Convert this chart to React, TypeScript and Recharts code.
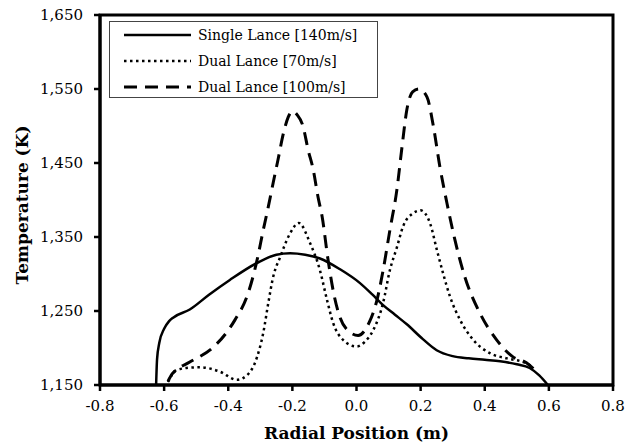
import { LineChart, Line, XAxis, YAxis, ReferenceArea, Legend } from 'recharts';

const FONT = '"DejaVu Serif", serif';

// --- Data ---
const xTicks = [-0.8, -0.6, -0.4, -0.2, 0, 0.2, 0.4, 0.6, 0.8];
const yTicks = [1150, 1250, 1350, 1450, 1550, 1650];

const singleX = [-0.625, -0.622, -0.615, -0.6, -0.585, -0.572, -0.52, -0.46, -0.395, -0.31, -0.25, -0.207, -0.16, -0.114, -0.05, 0.01, 0.05, 0.083, 0.12, 0.157, 0.207, 0.25, 0.3, 0.35, 0.4, 0.448, 0.5, 0.54, 0.57, 0.597];
const singleT = [1150, 1185, 1207, 1226, 1236, 1241, 1252, 1272, 1292, 1315, 1326, 1328, 1326, 1321, 1306, 1288, 1272, 1258, 1245, 1232, 1212, 1197, 1189, 1186, 1184, 1182, 1178, 1173, 1163, 1150];

const dual70X = [-0.588, -0.575, -0.566, -0.53, -0.488, -0.426, -0.373, -0.342, -0.31, -0.291, -0.275, -0.26, -0.238, -0.207, -0.18, -0.145, -0.114, -0.092, -0.073, -0.042, 0.0, 0.025, 0.052, 0.083, 0.104, 0.126, 0.145, 0.176, 0.2, 0.229, 0.251, 0.27, 0.292, 0.323, 0.364, 0.416, 0.469, 0.52, 0.552];
const dual70T = [1154, 1164, 1169, 1173, 1174, 1168, 1157, 1163, 1188, 1220, 1261, 1296, 1323, 1355, 1369, 1342, 1305, 1265, 1234, 1211, 1202, 1208, 1224, 1261, 1305, 1336, 1364, 1382, 1386, 1369, 1332, 1301, 1269, 1238, 1211, 1193, 1186, 1181, 1174];

const dual100X = [-0.588, -0.575, -0.563, -0.52, -0.447, -0.4, -0.379, -0.338, -0.31, -0.291, -0.275, -0.26, -0.245, -0.228, -0.213, -0.2, -0.185, -0.167, -0.151, -0.135, -0.12, -0.107, -0.089, -0.073, -0.052, -0.03, 0.005, 0.04, 0.064, 0.083, 0.104, 0.126, 0.142, 0.157, 0.175, 0.195, 0.22, 0.24, 0.26, 0.282, 0.307, 0.338, 0.385, 0.437, 0.488, 0.53, 0.552];
const dual100T = [1155, 1165, 1170, 1181, 1201, 1224, 1238, 1274, 1319, 1359, 1391, 1423, 1454, 1490, 1512, 1520, 1515, 1500, 1468, 1441, 1404, 1377, 1320, 1278, 1242, 1225, 1217, 1235, 1265, 1305, 1359, 1414, 1472, 1522, 1546, 1550, 1539, 1499, 1445, 1396, 1346, 1296, 1247, 1211, 1188, 1180, 1172];

const seriesNames = ['Single Lance [140m/s]', 'Dual Lance [70m/s]', 'Dual Lance [100m/s]'];

const toPoints = (xs: number[], ts: number[]) => xs.map((x, i) => ({ x, t: ts[i] }));

const singleData = toPoints(singleX, singleT);
const dual70Data = toPoints(dual70X, dual70T);
const dual100Data = toPoints(dual100X, dual100T);

// line styles shared between plot and legend
const styles = [
  { strokeWidth: 2.5, dash: undefined as string | undefined },
  { strokeWidth: 2.5, dash: '2.5 3.5' },
  { strokeWidth: 3, dash: '13 8' },
];

function LegendBox() {
  return (
    <div
      style={{
        border: '1px solid #444',
        background: '#fff',
        width: 269,
        height: 77,
        boxSizing: 'border-box',
        fontFamily: FONT,
        fontSize: 14,
        color: '#000',
        textAlign: 'left',
        paddingTop: 0,
      }}
    >
      {seriesNames.map((name, i) => (
        <div key={name} style={{ display: 'flex', alignItems: 'center', height: 26 }}>
          <svg width={88} height={10} style={{ flex: 'none' }}>
            <line
              x1={14}
              y1={5}
              x2={81}
              y2={5}
              stroke="#000"
              strokeWidth={styles[i].strokeWidth}
              strokeDasharray={styles[i].dash}
            />
          </svg>
          <span style={{ whiteSpace: 'nowrap' }}>{name}</span>
        </div>
      ))}
    </div>
  );
}

export default function App() {
  return (
    <div style={{ position: 'absolute', left: 0, top: 0, background: '#fff' }}>
      <LineChart width={638} height={445} margin={{ top: 15, right: 25, bottom: 0, left: 0 }}>
        <XAxis
          dataKey="x"
          type="number"
          domain={[-0.8, 0.8]}
          ticks={xTicks}
          tickFormatter={(v: number) => v.toFixed(1)}
          height={60}
          tickSize={6}
          tickMargin={9}
          axisLine={{ stroke: '#000', strokeWidth: 3 }}
          tickLine={{ stroke: '#000', strokeWidth: 2.5 }}
          tick={{ fill: '#000', fontSize: 15, fontFamily: FONT }}
          label={{
            value: 'Radial Position (m)',
            position: 'insideBottom',
            offset: 6,
            fill: '#000',
            fontSize: 17,
            fontWeight: 'bold',
            fontFamily: FONT,
          }}
        />
        <YAxis
          type="number"
          domain={[1150, 1650]}
          ticks={yTicks}
          tickFormatter={(v: number) => v.toLocaleString('en-US')}
          width={100}
          tickSize={6}
          tickMargin={11}
          axisLine={{ stroke: '#000', strokeWidth: 3 }}
          tickLine={{ stroke: '#000', strokeWidth: 2.5 }}
          tick={{ fill: '#000', fontSize: 15, fontFamily: FONT }}
          label={(props: any) => {
            const vb = props.viewBox || { x: 0, y: 15, height: 370 };
            const cx = 22;
            const cy = vb.y + vb.height / 2 + 5;
            return (
              <text
                x={cx}
                y={cy}
                transform={`rotate(-90, ${cx}, ${cy})`}
                textAnchor="middle"
                dominantBaseline="central"
                fill="#000"
                fontSize={17}
                fontWeight="bold"
                fontFamily={FONT}
              >
                Temperature (K)
              </text>
            );
          }}
        />
        <ReferenceArea x1={-0.8} x2={0.8} y1={1150} y2={1650} fill="none" stroke="#000" strokeWidth={3} />
        <Legend
          verticalAlign="middle"
          align="center"
          layout="horizontal"
          content={() => <LegendBox />}
          wrapperStyle={{ left: 109, top: 21, width: 'auto' }}
        />
        <Line
          data={singleData}
          dataKey="t"
          name={seriesNames[0]}
          type="monotone"
          stroke="#000"
          strokeWidth={styles[0].strokeWidth}
          dot={false}
          isAnimationActive={false}
        />
        <Line
          data={dual70Data}
          dataKey="t"
          name={seriesNames[1]}
          type="monotone"
          stroke="#000"
          strokeWidth={styles[1].strokeWidth}
          strokeDasharray={styles[1].dash}
          dot={false}
          isAnimationActive={false}
        />
        <Line
          data={dual100Data}
          dataKey="t"
          name={seriesNames[2]}
          type="monotone"
          stroke="#000"
          strokeWidth={styles[2].strokeWidth}
          strokeDasharray={styles[2].dash}
          dot={false}
          isAnimationActive={false}
        />
      </LineChart>
    </div>
  );
}
